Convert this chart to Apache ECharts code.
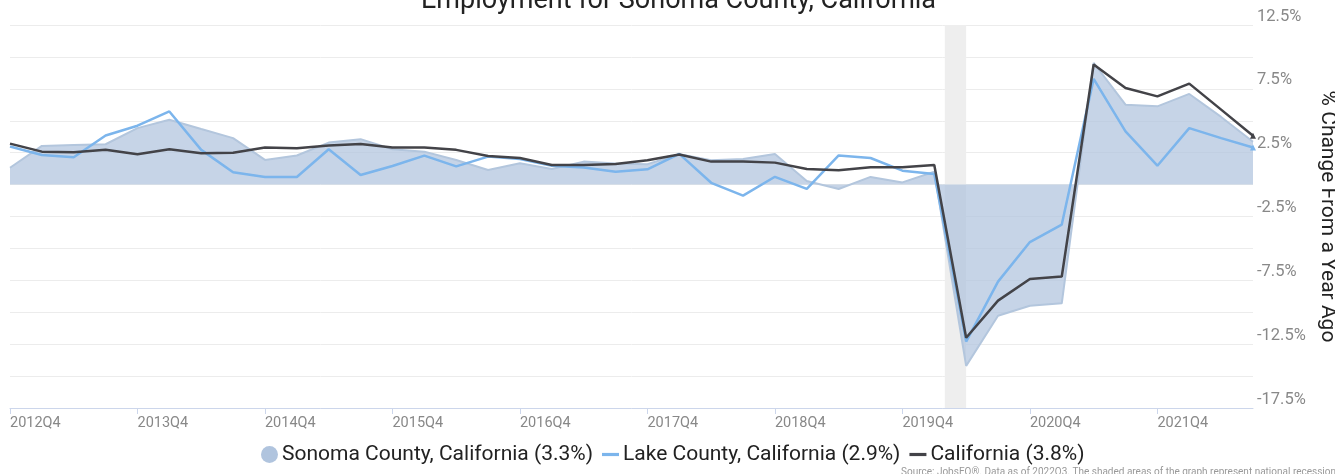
<!DOCTYPE html>
<html>
<head>
<meta charset="utf-8">
<script src="https://cdn.jsdelivr.net/npm/echarts@6/dist/echarts.min.js"></script>
<style>html,body{margin:0;padding:0;background:#fff}#c{width:1335px;height:474px}</style>
</head>
<body>
<div id="c"></div>
<script>
const quarters = [];
for (let y = 2012, q = 4; quarters.length < 40; ) { quarters.push(y + 'Q' + q); q++; if (q > 4) { q = 1; y++; } }

const sonoma = [1.32, 3.03, 3.11, 3.16, 4.42, 5.08, 4.35, 3.64, 1.93, 2.28,
  3.29, 3.56, 2.77, 2.58, 1.93, 1.14, 1.67, 1.22, 1.8, 1.65,
  1.6, 2.38, 1.9, 2.0, 2.4, 0.28, -0.35, 0.6, 0.17, 1.0,
  -14.2, -10.28, -9.49, -9.3, 9.54, 6.26, 6.13, 7.1, 5.3, 3.35];
const lake = [2.98, 2.32, 2.14, 3.84, 4.61, 5.73, 2.72, 0.96, 0.59, 0.59,
  2.77, 0.75, 1.46, 2.27, 1.43, 2.19, 2.0, 1.48, 1.34, 1.0,
  1.2, 2.4, 0.14, -0.87, 0.61, -0.34, 2.28, 2.08, 1.09, 0.83,
  -12.3, -7.6, -4.5, -3.13, 8.28, 4.16, 1.48, 4.42, 3.64, 2.9];
const california = [3.21, 2.58, 2.54, 2.72, 2.38, 2.77, 2.46, 2.5, 2.9, 2.85,
  3.06, 3.17, 2.9, 2.9, 2.72, 2.24, 2.08, 1.54, 1.54, 1.61,
  1.9, 2.35, 1.8, 1.8, 1.72, 1.22, 1.13, 1.35, 1.35, 1.54,
  -12.0, -9.09, -7.39, -7.2, 9.41, 7.57, 6.91, 7.91, 5.87, 3.82];
const recession = [29.33, 30.0];
const yLabelValues = [12.5, 7.5, 2.5, -2.5, -7.5, -12.5, -17.5];
const seriesNames = ['Sonoma County, California (3.3%)', 'Lake County, California (2.9%)', 'California (3.8%)'];

function toPairs(arr) {
  return arr.map((v, i) => i === arr.length - 1
    ? { value: [i, v], symbol: 'triangle', symbolSize: 6 }
    : [i, v]);
}
const xTicks = quarters.map((q, i) => i).filter(i => quarters[i].endsWith('Q4'));

const chart = echarts.init(document.getElementById('c'), null, { renderer: 'canvas' });
const font = 'Roboto';
chart.setOption({
  animation: false,
  textStyle: { fontFamily: font },
  title: [{
    text: 'Employment for Sonoma County, California',
    left: 416, top: -17,
    textStyle: { fontFamily: font, fontSize: 27, fontWeight: 'normal', color: '#222' }
  }, {
    text: 'Source: JobsEQ®. Data as of 2022Q3. The shaded areas of the graph represent national recessions.',
    left: 896, top: 462,
    textStyle: { fontFamily: font, fontSize: 10, fontWeight: 'normal', color: '#999' }
  }],
  grid: { left: 10, right: 82, top: 25, bottom: 66, outerBoundsMode: 'none', containLabel: false },
  legend: {
    top: 439, left: 256,
    itemWidth: 17, itemHeight: 17, itemGap: 9,
    textStyle: { fontFamily: font, fontSize: 21, color: '#222', padding: [0, 0, 0, -1] },
    data: [
      { name: seriesNames[0], icon: 'circle' },
      { name: seriesNames[1], icon: 'path://M0,0 L16,0 L16,3 L0,3 Z' },
      { name: seriesNames[2], icon: 'path://M0,0 L16,0 L16,3 L0,3 Z' }
    ]
  },
  xAxis: {
    type: 'value', min: 0, max: quarters.length - 1,
    splitLine: { show: false },
    axisLine: { show: true, onZero: false, lineStyle: { color: '#ccd6eb', width: 1 } },
    axisTick: { show: true, length: 6, customValues: xTicks, lineStyle: { color: '#ccd6eb' } },
    axisLabel: {
      customValues: xTicks,
      formatter: v => quarters[Math.round(v)] || '',
      align: 'left', margin: 8,
      color: '#888', fontFamily: font, fontSize: 14.5
    }
  },
  yAxis: {
    type: 'value', position: 'right', min: -17.5, max: 12.5, interval: 2.5,
    name: '% Change From a Year Ago', nameLocation: 'middle', nameRotate: -90, nameGap: 54,
    nameTextStyle: { fontFamily: font, fontSize: 21, color: '#222' },
    axisLine: { show: false }, axisTick: { show: false },
    splitLine: { lineStyle: { color: '#ececec', width: 1 } },
    axisLabel: {
      formatter: v => yLabelValues.some(t => Math.abs(t - v) < 1e-6) ? v + '%' : '',
      verticalAlign: 'bottom', align: 'left', margin: 4,
      color: '#888', fontFamily: font, fontSize: 16.5
    }
  },
  series: [{
    type: 'line', name: 'recession', data: [], z: 0, silent: true,
    markArea: {
      silent: true,
      itemStyle: { color: '#eeeeee' },
      data: [[{ xAxis: recession[0] }, { xAxis: recession[1] }]]
    }
  }, {
    type: 'line', name: seriesNames[0], data: toPairs(sonoma), z: 2,
    color: '#b0c4de', showSymbol: false, symbol: 'none',
    lineStyle: { width: 2, color: '#b3c6dd' },
    areaStyle: { color: '#b0c4de', opacity: 0.72 }
  }, {
    type: 'line', name: seriesNames[1], data: toPairs(lake), z: 3,
    color: '#7cb5ec', showSymbol: true, symbol: 'none',
    lineStyle: { width: 2.5, color: '#7cb5ec' }
  }, {
    type: 'line', name: seriesNames[2], data: toPairs(california), z: 4,
    color: '#434348', showSymbol: true, symbol: 'none',
    lineStyle: { width: 2.5, color: '#434348' }
  }]
});
</script>
</body>
</html>
